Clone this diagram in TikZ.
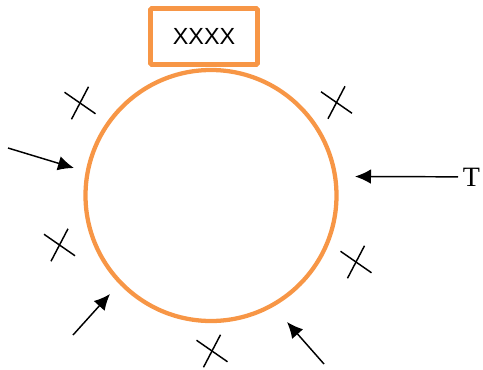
\documentclass[tikz,border=0pt]{standalone}
\usepackage{fontspec}
\setmainfont{Liberation Serif}
\newfontfamily\boxfont{Liberation Sans}
\usetikzlibrary{arrows.meta}
\definecolor{ringorange}{RGB}{247,150,70}
\tikzset{
  arr/.style={line width=1.1pt, -{Latex[length=12pt,width=11pt]}},
  pics/crossmark/.style={code={
    \draw[line width=1.1pt] (-15.5,-10.75)--(15.5,10.75);
    \draw[line width=1.1pt] (8.5,-16.25)--(-8.5,16.25);
  }}
}

\begin{document}
\begin{tikzpicture}[x=0.75pt, y=-0.75pt]
    \useasboundingbox (0,0) rectangle (483,369);
    % ring and title box
    \node[circle, draw=ringorange, line width=3.2pt, inner sep=0, minimum size=188.25pt] (ring) at (211,195.5) {};
    \node[draw=ringorange, line width=3.6pt, rounded corners=1pt, minimum width=80.25pt, minimum height=42pt, font=\boxfont\fontsize{17.5}{20}\selectfont] (title) at (204,36.5) {XXXX};
    % marks
    \foreach \cx/\cy in {80/103, 336.5/102.5, 59.5/245, 356/262, 212/351} {
      \pic at (\cx,\cy) {crossmark};
    }
    % arrows towards the ring
    \node[anchor=base west, inner xsep=3.5pt, inner ysep=0, font=\fontsize{21}{24}\selectfont] (tlabel) at (458,186) {T};
    \coordinate (tend) at (355,176.5);
    \draw[arr] (tlabel.west)--(tend);
    \foreach \sx/\sy/\ex/\ey [count=\i] in {8/148/74/168, 73/335/110/294, 324/364/287/322} {
      \coordinate (s\i) at (\sx,\sy);
      \coordinate (e\i) at (\ex,\ey);
      \draw[arr] (s\i)--(e\i);
    }
\end{tikzpicture}
\end{document}
